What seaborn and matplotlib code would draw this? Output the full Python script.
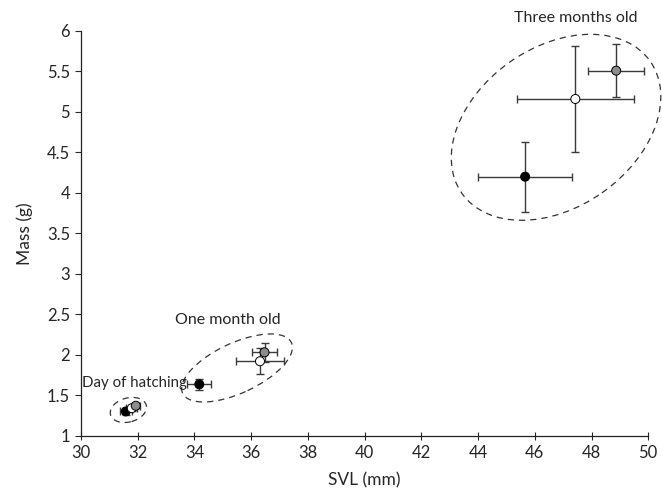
import matplotlib
matplotlib.use("Agg")
from matplotlib import pyplot as plt
from matplotlib.patches import Ellipse
from matplotlib.transforms import ScaledTranslation
import pandas as pd
import seaborn as sns

# values (black / white / grey per age class)
age = ['Day of hatching'] * 3 + ['One month old'] * 3 + ['Three months old'] * 3
group = ['black', 'white', 'grey'] * 3
svl = [31.58, 31.79, 31.93, 34.17, 36.31, 36.47, 45.66, 47.43, 48.87]
mass = [1.30, 1.34, 1.37, 1.635, 1.92, 2.03, 4.20, 5.16, 5.51]
svl_err = [0.20, 0.20, 0.15, 0.42, 0.85, 0.45, 1.65, 2.07, 0.99]
mass_err = [0.04, 0.04, 0.03, 0.065, 0.16, 0.12, 0.43, 0.66, 0.33]

# dashed ellipses round each age class: centre (data), size in inches, angle
ell_x = [31.67, 35.50, 46.75]
ell_y = [1.318, 1.837, 4.81]
ell_w = [0.37, 1.20, 2.30]
ell_h = [0.24, 0.50, 1.60]
ell_ang = [15, 25, 35]

label_x = [30.05, 35.19, 47.46]
label_y = [1.65, 2.43, 6.16]
label_ha = ['left', 'center', 'center']
label_fs = [10.8, 11.5, 11.5]

df = pd.DataFrame({'age': age, 'group': group, 'SVL': svl, 'Mass': mass,
                   'xerr': svl_err, 'yerr': mass_err})

sns.set_style('white')
plt.rcParams['font.family'] = ['Lato', 'DejaVu Sans']

fig = plt.figure(figsize=(6.62, 4.92), dpi=100)
ax = fig.add_axes([0.1224, 0.1144, 0.8568, 0.8226])

ax.errorbar(df['SVL'], df['Mass'], xerr=df['xerr'], yerr=df['yerr'],
            fmt='none', ecolor='#3a3a3a', elinewidth=1, capsize=2.8,
            capthick=1, zorder=2)
sns.scatterplot(data=df, x='SVL', y='Mass', hue='group',
                palette={'black': 'black', 'white': 'white', 'grey': '#8c8c8c'},
                edgecolor='black', linewidth=0.7, s=42, legend=False,
                zorder=3, ax=ax)

for i in range(3):
    tr = fig.dpi_scale_trans + ScaledTranslation(ell_x[i], ell_y[i], ax.transData)
    e = Ellipse((0, 0), ell_w[i], ell_h[i], angle=ell_ang[i], transform=tr,
                fill=False, edgecolor='#333333', linewidth=0.9,
                linestyle=(0, (5, 4)), clip_on=False)
    ax.add_patch(e)
    ax.text(label_x[i], label_y[i], age[i * 3], ha=label_ha[i], va='center',
            fontsize=label_fs[i], clip_on=False)

ax.set_xlim(30, 50)
ax.set_ylim(1, 6)
ax.set_xticks(range(30, 51, 2))
ax.set_yticks([1, 1.5, 2, 2.5, 3, 3.5, 4, 4.5, 5, 5.5, 6])
ax.set_yticklabels(['1', '1.5', '2', '2.5', '3', '3.5', '4', '4.5', '5', '5.5', '6'])
ax.set_xlabel('SVL (mm)', fontsize=12.5, labelpad=8)
ax.set_ylabel('Mass (g)', fontsize=12.5, labelpad=10)
ax.tick_params(axis='x', direction='inout', length=6, width=0.8, labelsize=12, pad=4)
ax.tick_params(axis='y', direction='out', length=4, width=0.8, labelsize=12, pad=4)
ax.tick_params(bottom=True, left=True)
sns.despine(ax=ax)
for s in ['left', 'bottom']:
    ax.spines[s].set_color('#222222')
    ax.spines[s].set_linewidth(0.9)

fig.savefig('out.png', dpi=100)
